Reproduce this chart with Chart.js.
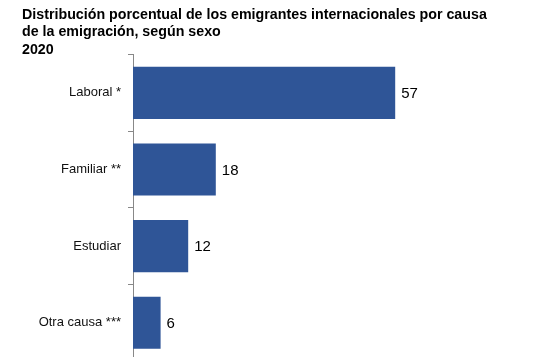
<!DOCTYPE html>
<html>
<head>
<meta charset="utf-8">
<script src="https://cdn.jsdelivr.net/npm/chart.js@4.4.1/dist/chart.umd.min.js"></script>
<style>
html,body{margin:0;padding:0;background:#fff;overflow:hidden;}
#wrap{width:537px;height:361px;}
</style>
</head>
<body>
<div id="wrap"><canvas id="c" width="537" height="361"></canvas></div>
<script>
const titleLines = ["Distribución porcentual de los emigrantes internacionales por causa", "de la emigración, según sexo", "2020"];
const categories = ["Laboral *", "Familiar **", "Estudiar", "Otra causa ***"];
const values = [57, 18, 12, 6];
const xMax = 80;

const valueLabels = {
  id: 'valueLabels',
  afterDatasetsDraw(chart) {
    const ctx = chart.ctx;
    const meta = chart.getDatasetMeta(0);
    ctx.save();
    ctx.font = '15px "Liberation Sans", Arial, sans-serif';
    ctx.fillStyle = '#000';
    ctx.textAlign = 'left';
    ctx.textBaseline = 'middle';
    meta.data.forEach((bar, i) => {
      ctx.fillText(String(values[i]), bar.x + 6, bar.y + 1);
    });
    ctx.restore();
  }
};

new Chart(document.getElementById('c'), {
  type: 'bar',
  data: {
    labels: categories,
    datasets: [{
      data: values,
      backgroundColor: '#2F5597',
      borderWidth: 0,
      barPercentage: 0.68,
      categoryPercentage: 1.0
    }]
  },
  options: {
    indexAxis: 'y',
    responsive: false,
    animation: false,
    layout: { padding: { left: 22, right: 36, top: 0, bottom: 0 } },
    plugins: {
      legend: { display: false },
      tooltip: { enabled: false },
      title: {
        display: true,
        text: titleLines,
        align: 'start',
        color: '#000',
        font: { family: '"Liberation Sans", Arial, sans-serif', size: 14.25, weight: 'bold', lineHeight: 1.23 },
        padding: { top: 6, bottom: -4 }
      }
    },
    scales: {
      x: {
        display: false,
        min: 0,
        max: xMax
      },
      y: {
        afterFit(scale) { scale.width = 111; scale.paddingTop = 0; scale.paddingBottom = 0; },
        grid: {
          display: true,
          offset: true,
          drawOnChartArea: false,
          drawTicks: true,
          tickLength: 5,
          color: '#888'
        },
        border: { display: true, color: '#888', width: 1 },
        ticks: {
          color: '#111',
          padding: 7,
          font: { family: '"Liberation Sans", Arial, sans-serif', size: 13 }
        }
      }
    }
  },
  plugins: [valueLabels]
});
</script>
</body>
</html>
